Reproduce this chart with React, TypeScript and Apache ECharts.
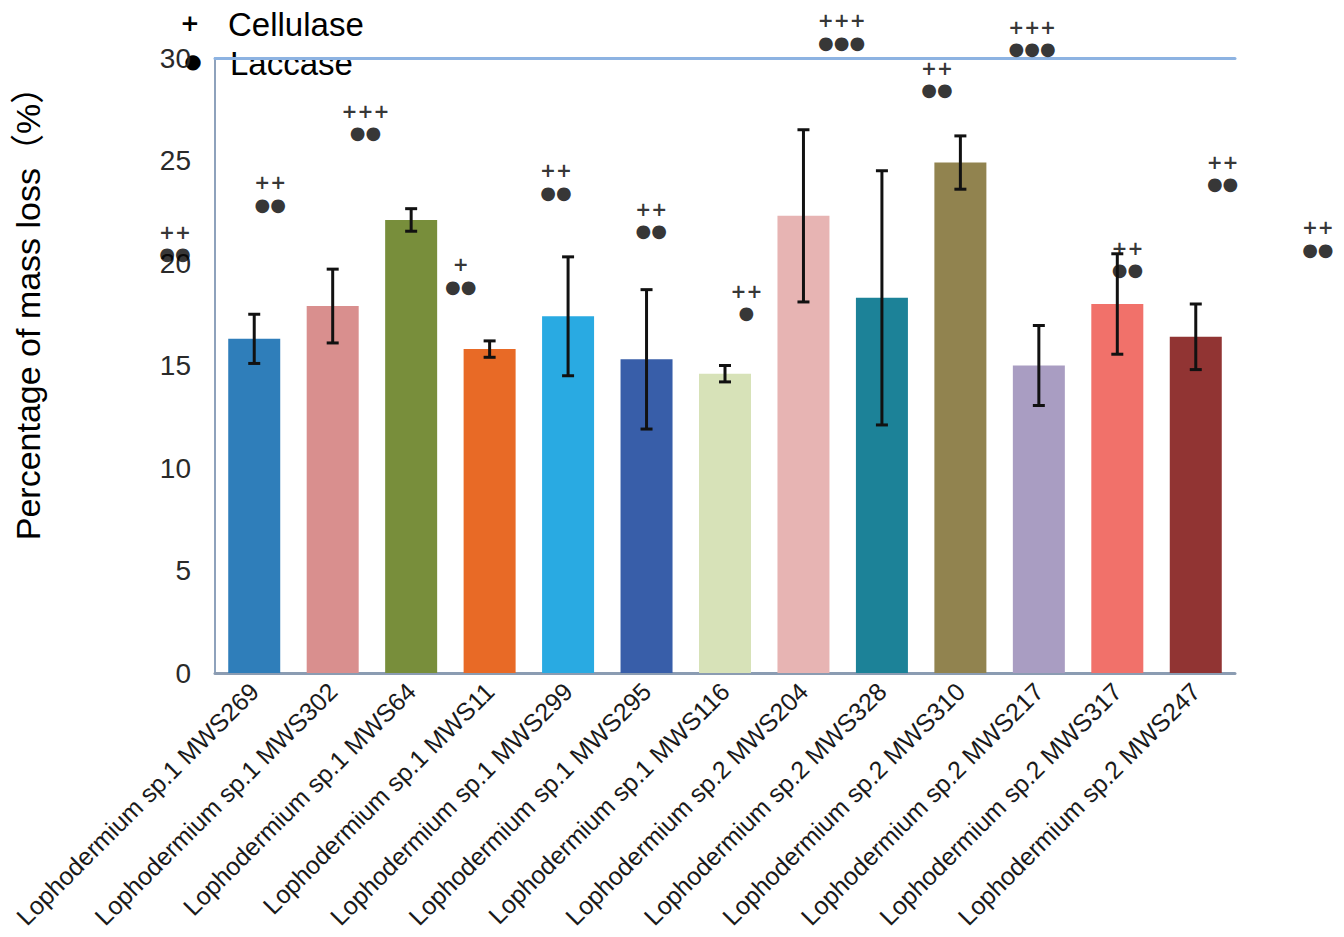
import React, { useEffect, useRef } from "react";
import * as echarts from "echarts";

const categories = [
  "Lophodermium sp.1 MWS269",
  "Lophodermium sp.1 MWS302",
  "Lophodermium sp.1 MWS64",
  "Lophodermium sp.1 MWS11",
  "Lophodermium sp.1 MWS299",
  "Lophodermium sp.1 MWS295",
  "Lophodermium sp.1 MWS116",
  "Lophodermium sp.2 MWS204",
  "Lophodermium sp.2 MWS328",
  "Lophodermium sp.2 MWS310",
  "Lophodermium sp.2 MWS217",
  "Lophodermium sp.2 MWS317",
  "Lophodermium sp.2 MWS247",
];
const massLoss = [16.3, 17.9, 22.1, 15.8, 17.4, 15.3, 14.6, 22.3, 18.3, 24.9, 15.0, 18.0, 16.4];
const errors = [1.2, 1.8, 0.55, 0.4, 2.9, 3.4, 0.4, 4.2, 6.2, 1.3, 1.95, 2.45, 1.6];
const barColors = [
  "#2F7EBA", "#D98F8E", "#788E3B", "#E86A26", "#29AAE2", "#385EA9", "#D7E2B8",
  "#E7B4B3", "#1C8298", "#91834F", "#A99DC2", "#F1716A", "#913433",
];
const yTicks = [0, 5, 10, 15, 20, 25, 30];
// annotations (as placed in the source figure)
const annotIndex = [0, 1, 2, 3, 4, 5, 6, 7, 8, 9, 10, 11, 12];
const annotY = [21.0, 23.4, 26.9, 19.4, 24.0, 22.1, 18.1, 31.3, 29.0, 31.0, 20.2, 24.4, 21.2];
const cellulase = ["++", "++", "+++", "+", "++", "++", "++", "+++", "++", "+++", "++", "++", "++"];
const laccase = ["●●", "●●", "●●", "●●", "●●", "●●", "●", "●●●", "●●", "●●●", "●●", "●●", "●●"];

export default function App() {
  const ref = useRef<HTMLDivElement>(null);
  useEffect(() => {
    if (!ref.current) return;
    const chart = echarts.init(ref.current, null, { renderer: "svg" });
    const font = "'Liberation Sans', Arial, sans-serif";
    const annotSeries = (texts: string[], dy: number, size: number, bold: boolean) => ({
      type: "scatter",
      xAxisIndex: 1,
      yAxisIndex: 0,
      clip: false,
      symbolSize: 0,
      silent: true,
      data: annotIndex.map((x, i) => [x, annotY[i]]),
      label: {
        show: true,
        position: "inside",
        offset: [0, dy],
        formatter: (p: any) => texts[p.dataIndex],
        fontFamily: "'DejaVu Sans', sans-serif",
        fontWeight: bold ? "bold" : "normal",
        fontSize: size,
        color: "#000",
      },
    });
    chart.setOption({
      animation: false,
      backgroundColor: "#ffffff",
      grid: { left: 215, right: 109, top: 58, bottom: 264, containLabel: false },
      xAxis: [
        {
          type: "category",
          data: categories,
          position: "bottom",
          axisLine: { show: true, lineStyle: { color: "#8B9CB2", width: 3 } },
          axisTick: { show: false },
          axisLabel: {
            rotate: 45,
            interval: 0,
            margin: 14,
            fontSize: 25,
            fontFamily: font,
            color: "#1a1a1a",
          },
        },
        {
          type: "value",
          position: "top",
          min: 0.42,
          max: 11.13,
          axisLine: { show: true, onZero: false, lineStyle: { color: "#8DB3E2", width: 3 } },
          axisTick: { show: false },
          axisLabel: { show: false },
          splitLine: { show: false },
        },
      ],
      yAxis: {
        type: "value",
        min: 0,
        max: 30,
        interval: 5,
        axisLine: { show: true, lineStyle: { color: "#8EA2BC", width: 2 } },
        axisTick: { show: false },
        splitLine: { show: false },
        axisLabel: {
          margin: 24,
          fontSize: 28,
          fontFamily: font,
          color: "#2a2a2a",
          formatter: (v: number) => (yTicks.includes(v) ? String(v) : ""),
        },
      },
      series: [
        {
          type: "bar",
          xAxisIndex: 0,
          barWidth: 52,
          data: massLoss.map((v, i) => ({ value: v, itemStyle: { color: barColors[i] } })),
        },
        {
          type: "custom",
          xAxisIndex: 0,
          z: 5,
          data: massLoss.map((v, i) => [i, v - errors[i], v + errors[i]]),
          renderItem: (params: any, api: any) => {
            const x = api.value(0);
            const lo = api.coord([x, api.value(1)]);
            const hi = api.coord([x, api.value(2)]);
            const cw = 6;
            const style = { stroke: "#111111", lineWidth: 3 };
            return {
              type: "group",
              children: [
                { type: "line", shape: { x1: lo[0], y1: lo[1], x2: hi[0], y2: hi[1] }, style },
                { type: "line", shape: { x1: lo[0] - cw, y1: lo[1], x2: lo[0] + cw, y2: lo[1] }, style },
                { type: "line", shape: { x1: hi[0] - cw, y1: hi[1], x2: hi[0] + cw, y2: hi[1] }, style },
              ],
            };
          },
        },
        annotSeries(cellulase, -11, 19, true),
        annotSeries(laccase, 11, 18, false),
      ],
      graphic: [
        {
          type: "text",
          x: 190,
          y: 23,
          style: {
            text: "+",
            fontFamily: "'DejaVu Sans', sans-serif",
            fontWeight: "bold",
            fontSize: 23,
            fill: "#000",
            align: "center",
            verticalAlign: "middle",
          },
        },
        {
          type: "text",
          x: 228,
          y: 24,
          style: {
            text: "Cellulase",
            fontFamily: font,
            fontSize: 33,
            fill: "#000",
            align: "left",
            verticalAlign: "middle",
          },
        },
        {
          type: "text",
          x: 193,
          y: 61,
          style: {
            text: "●",
            fontFamily: "'DejaVu Sans', sans-serif",
            fontSize: 20,
            fill: "#000",
            align: "center",
            verticalAlign: "middle",
          },
        },
        {
          type: "text",
          x: 230,
          y: 63,
          style: {
            text: "Laccase",
            fontFamily: font,
            fontSize: 33,
            fill: "#000",
            align: "left",
            verticalAlign: "middle",
          },
        },
        {
          type: "text",
          x: 28,
          y: 305,
          rotation: Math.PI / 2,
          style: {
            text: "Percentage of mass loss（%）",
            fontFamily: "'Liberation Sans', Arial, 'Noto Sans CJK SC', sans-serif",
            fontSize: 34,
            fill: "#000",
            align: "center",
            verticalAlign: "middle",
          },
        },
      ],
    });
    return () => chart.dispose();
  }, []);
  return (
    <div
      ref={ref}
      style={{ position: "absolute", left: 0, top: 0, width: 1344, height: 937, background: "#fff" }}
    />
  );
}
